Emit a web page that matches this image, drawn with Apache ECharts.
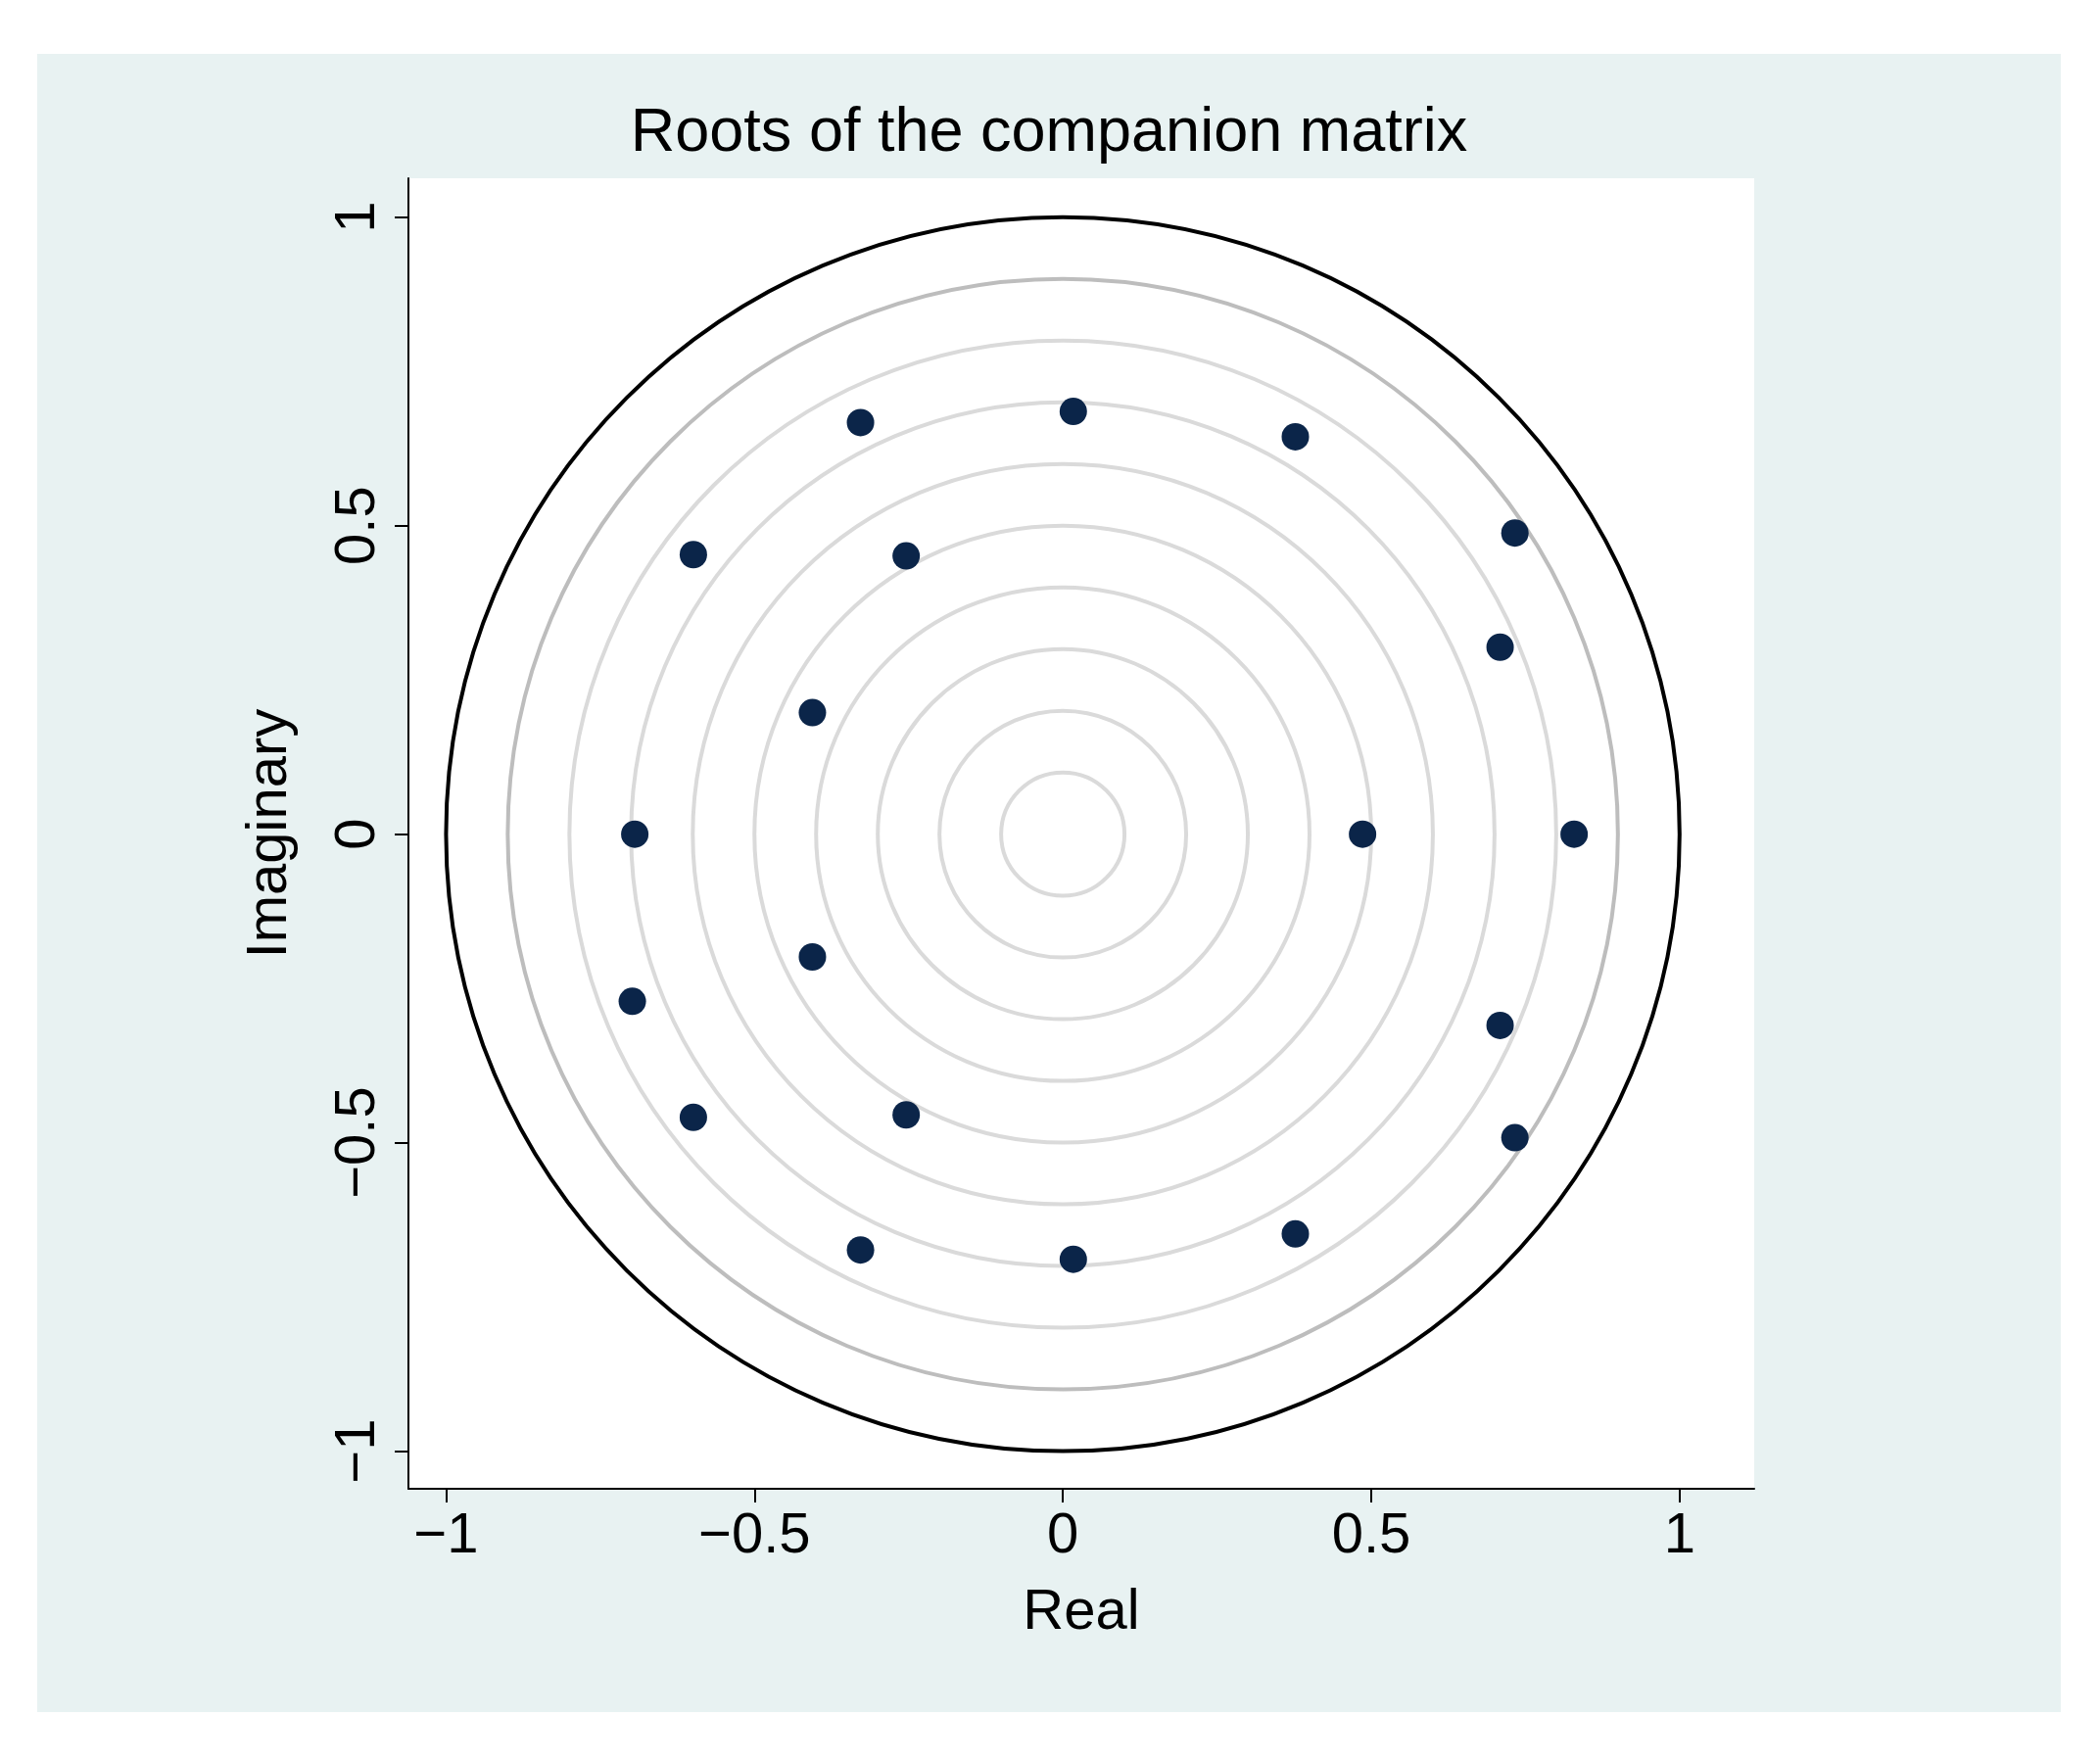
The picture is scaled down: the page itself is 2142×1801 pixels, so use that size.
<!DOCTYPE html>
<html>
<head>
<meta charset="utf-8">
<script src="https://cdn.jsdelivr.net/npm/echarts@6/dist/echarts.min.js"></script>
<style>
  html, body { margin: 0; padding: 0; background: #ffffff; }
  #panel { position: absolute; left: 38px; top: 55px; width: 2066px; height: 1693px; background: #e8f2f2; }
  #main { position: absolute; left: 0; top: 0; width: 2142px; height: 1801px; }
</style>
</head>
<body>
<div id="panel"></div>
<div id="main"></div>
<script>
// eigenvalues: [real, imaginary]
var roots = [
  [-0.328, 0.667], [0.017, 0.685], [0.377, 0.644], [0.733, 0.488],
  [-0.599, 0.453], [-0.254, 0.451], [0.709, 0.303], [-0.406, 0.197],
  [-0.694, 0], [0.486, 0], [0.829, 0],
  [-0.406, -0.199], [-0.698, -0.271], [0.709, -0.31], [-0.599, -0.459],
  [-0.254, -0.455], [0.733, -0.492], [-0.328, -0.674], [0.017, -0.689],
  [0.377, -0.648]
];
var ringRadii = [0.1, 0.2, 0.3, 0.4, 0.5, 0.6, 0.7, 0.8, 0.9, 1];
var xTicks = [-1, -0.5, 0, 0.5, 1];
var yTicks = [-1, -0.5, 0, 0.5, 1];

function fmt(v) { return String(v).replace('-', '\u2212'); }

var chart = echarts.init(document.getElementById('main'));
var font = 'Liberation Sans, Arial, sans-serif';

chart.setOption({
  backgroundColor: 'transparent',
  animation: false,
  title: {
    text: 'Roots of the companion matrix',
    left: 'center', top: 100,
    textStyle: { fontFamily: font, fontSize: 63, fontWeight: 'normal', color: '#000' }
  },
  grid: {
    left: 417, top: 182, width: 1374, height: 1338,
    show: true, backgroundColor: '#ffffff', borderWidth: 0
  },
  xAxis: {
    type: 'value', min: -1.061, max: 1.121,
    name: 'Real', nameLocation: 'middle', nameGap: 98,
    nameTextStyle: { fontFamily: font, fontSize: 58, color: '#000' },
    axisLine: { show: true, onZero: false, lineStyle: { color: '#000', width: 2 } },
    axisTick: { show: true, length: 14, lineStyle: { color: '#000', width: 2 },
      customValues: xTicks },
    axisLabel: { fontFamily: font, fontSize: 58, color: '#000', margin: 20,
      customValues: xTicks, formatter: fmt },
    splitLine: { show: false }
  },
  yAxis: {
    type: 'value', min: -1.061, max: 1.063,
    name: 'Imaginary', nameLocation: 'middle', nameGap: 112,
    nameTextStyle: { fontFamily: font, fontSize: 58, color: '#000' },
    axisLine: { show: true, onZero: false, lineStyle: { color: '#000', width: 2 } },
    axisTick: { show: true, length: 14, lineStyle: { color: '#000', width: 2 },
      customValues: yTicks },
    axisLabel: { fontFamily: font, fontSize: 58, color: '#000', margin: 22, rotate: 90,
      customValues: yTicks, formatter: fmt },
    splitLine: { show: false }
  },
  series: [
    {
      type: 'custom',
      data: ringRadii,
      silent: true,
      z: 1,
      renderItem: function (params, api) {
        var r = api.value(0);
        var c = api.coord([0, 0]);
        var e = api.coord([r, r]);
        var color = r === 1 ? '#000000' : (r === 0.9 ? '#bdbdbd' : '#dadada');
        return {
          type: 'ellipse',
          shape: { cx: c[0], cy: c[1], rx: e[0] - c[0], ry: c[1] - e[1] },
          style: { fill: 'none', stroke: color, lineWidth: r === 1 ? 4 : 4 }
        };
      }
    },
    {
      type: 'scatter',
      data: roots,
      symbolSize: 28,
      z: 3,
      itemStyle: { color: '#0b2549', opacity: 1 }
    }
  ]
});
</script>
</body>
</html>
